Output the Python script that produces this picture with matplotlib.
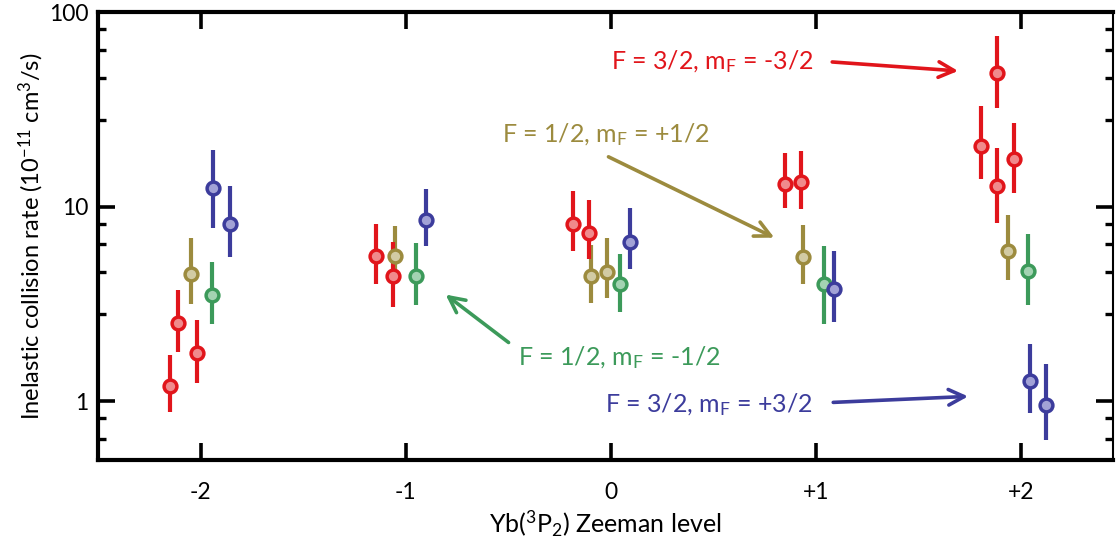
import numpy as np
import matplotlib
matplotlib.use("Agg")
import matplotlib.pyplot as plt
from matplotlib.ticker import FixedLocator, NullFormatter

plt.rcParams["font.family"] = ["Lato", "DejaVu Sans"]
plt.rcParams["mathtext.fontset"] = "custom"
plt.rcParams["mathtext.rm"] = "Lato"
plt.rcParams["mathtext.it"] = "Lato"

RED = "#E1151B"
GOLD = "#9C8B3E"
GREEN = "#3C9A5A"
BLUE = "#3C3C9C"
FACE = {RED: "#F08A8C", GOLD: "#D2CBA4", GREEN: "#A3D3B2", BLUE: "#A2A2D6"}

# F = 3/2, mF = -3/2 (red)
red_x = [-2.149, -2.109, -2.019, -1.143, -1.062, -0.186, -0.108, 0.848, 0.927,
         1.883, 1.804, 1.883, 1.963]
red_y = [1.20, 2.53, 1.78, 5.56, 4.39, 8.15, 7.30, 13.1, 13.4, 48.8, 20.6, 12.8, 17.6]
red_hi = [1.74, 3.75, 2.61, 8.18, 6.62, 12.0, 10.8, 18.8, 19.4, 75.3, 33.1, 20.0, 26.9]
red_lo = [0.88, 1.80, 1.24, 4.03, 3.05, 5.90, 5.39, 9.85, 9.77, 32.1, 13.8, 8.25, 11.8]

# F = 1/2, mF = +1/2 (gold)
gold_x = [-2.049, -1.054, -0.096, -0.018, 0.937, 1.934]
gold_y = [4.52, 5.61, 4.39, 4.64, 5.50, 5.90]
gold_hi = [6.93, 8.00, 6.33, 6.91, 8.09, 9.10]
gold_lo = [3.18, 4.03, 3.21, 3.40, 4.03, 4.18]

# F = 1/2, mF = -1/2 (green)
green_x = [-1.946, -0.952, 0.043, 1.038, 2.033]
green_y = [3.54, 4.43, 4.00, 4.00, 4.70]
green_hi = [5.18, 6.51, 5.72, 6.31, 7.27]
green_lo = [2.51, 3.14, 2.88, 2.49, 3.14]

# F = 3/2, mF = +3/2 (blue)
blue_x = [-1.939, -1.857, -0.903, 0.093, 1.087, 2.042, 2.122]
blue_y = [12.5, 8.18, 8.58, 6.62, 3.78, 1.28, 0.953]
blue_hi = [19.6, 12.8, 12.4, 9.88, 5.90, 1.96, 1.55]
blue_lo = [7.78, 5.52, 6.26, 4.79, 2.57, 0.875, 0.634]

x_ticks = [-2, -1, 0, 1, 2]
x_ticklabels = ["-2", "-1", "0", "+1", "+2"]
y_ticks = [1, 10, 100]
y_minor = [0.64, 0.82, 2.8, 4.6, 6.4, 8.2, 28, 46, 64, 82]

fig = plt.figure(figsize=(11.2, 5.48), dpi=100)
ax = fig.add_axes([0.0875, 0.1606, 0.9063, 0.8174])
ax.set_yscale("log")


def draw_series(xs, ys, lo, hi, color):
    ys = np.array(ys)
    err = np.vstack([ys - np.array(lo), np.array(hi) - ys])
    ax.errorbar(xs, ys, yerr=err, fmt="none", ecolor=color, elinewidth=3,
                capsize=0, zorder=2)
    ax.plot(xs, ys, "o", ms=9.2, mfc=FACE[color], mec=color, mew=2.5,
            linestyle="none", zorder=3)


# draw order roughly as in the reference
draw_series(gold_x, gold_y, gold_lo, gold_hi, GOLD)
draw_series(green_x, green_y, green_lo, green_hi, GREEN)
draw_series(blue_x, blue_y, blue_lo, blue_hi, BLUE)
draw_series(red_x, red_y, red_lo, red_hi, RED)

ax.set_xlim(-2.5, 2.447)
ax.set_ylim(0.5, 100)

ax.xaxis.set_major_locator(FixedLocator(x_ticks))
ax.set_xticklabels(x_ticklabels)
ax.xaxis.set_minor_locator(FixedLocator([]))
ax.yaxis.set_major_locator(FixedLocator(y_ticks))
ax.set_yticklabels(["1", "10", "100"])
ax.yaxis.set_minor_locator(FixedLocator(y_minor))
ax.yaxis.set_minor_formatter(NullFormatter())

ax.tick_params(axis="both", which="major", direction="in", length=12, width=2.6,
               labelsize=16.5, top=True, right=True)
ax.tick_params(axis="both", which="minor", direction="in", length=6, width=2.4,
               top=True, right=True)
ax.tick_params(axis="x", which="major", pad=16)
ax.tick_params(axis="y", which="major", pad=7)

for side in ["left", "top", "bottom"]:
    ax.spines[side].set_linewidth(3)
ax.spines["right"].set_linewidth(1.5)

ax.set_xlabel("Yb($^\\mathregular{3}$P$_\\mathregular{2}$) Zeeman level", fontsize=18, labelpad=4)
ax.set_ylabel("Inelastic collision rate (10$^\\mathregular{-11}$ cm$^\\mathregular{3}$/s)",
              fontsize=17, labelpad=2)


def px_to_data(px, py):
    return (px - 611.5) / 205.4, 10 ** (2 - (py - 12) / 195.0)


def label_arrow(text, tpos, start, tip, color):
    ax.text(*px_to_data(*tpos), text, color=color, fontsize=18, ha="center",
            va="center", zorder=4)
    ax.annotate("", xy=px_to_data(*tip), xytext=px_to_data(*start),
                arrowprops=dict(arrowstyle="->", color=color, lw=2.6,
                                mutation_scale=28, shrinkA=0, shrinkB=0))


label_arrow("F = 3/2, m$_\\mathregular{F}$ = -3/2", (713, 62), (833, 62), (959, 71), RED)
label_arrow("F = 1/2, m$_\\mathregular{F}$ = +1/2", (606, 135), (609, 157), (775, 238), GOLD)
label_arrow("F = 1/2, m$_\\mathregular{F}$ = -1/2", (620, 358), (509, 343), (446, 295), GREEN)
label_arrow("F = 3/2, m$_\\mathregular{F}$ = +3/2", (710, 405), (834, 403), (969, 397), BLUE)

fig.savefig("out.png", dpi=100)
